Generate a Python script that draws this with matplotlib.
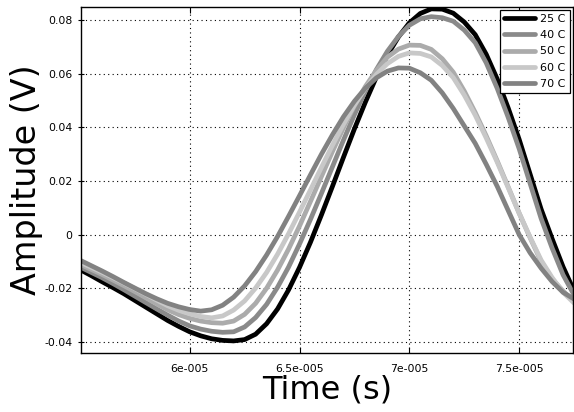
import matplotlib
matplotlib.use('Agg')
import matplotlib.pyplot as plt
from matplotlib.ticker import FuncFormatter, MultipleLocator

# time axis (s), read every 0.05e-5
time = [5.50e-5, 5.55e-5, 5.60e-5, 5.65e-5, 5.70e-5, 5.75e-5, 5.80e-5, 5.85e-5,
        5.90e-5, 5.95e-5, 6.00e-5, 6.05e-5, 6.10e-5, 6.15e-5, 6.20e-5, 6.25e-5,
        6.30e-5, 6.35e-5, 6.40e-5, 6.45e-5, 6.50e-5, 6.55e-5, 6.60e-5, 6.65e-5,
        6.70e-5, 6.75e-5, 6.80e-5, 6.85e-5, 6.90e-5, 6.95e-5, 7.00e-5, 7.05e-5,
        7.10e-5, 7.15e-5, 7.20e-5, 7.25e-5, 7.30e-5, 7.35e-5, 7.40e-5, 7.45e-5,
        7.50e-5, 7.55e-5, 7.60e-5, 7.65e-5, 7.70e-5, 7.75e-5]

# amplitudes (V)
amp_25 = [-0.0130, -0.0152, -0.0175, -0.0197, -0.0220, -0.0245, -0.0270, -0.0295,
          -0.0320, -0.0342, -0.0362, -0.0377, -0.0388, -0.0394, -0.0396, -0.0391,
          -0.0371, -0.0332, -0.0277, -0.0206, -0.0122, -0.0028, 0.0074, 0.0180,
          0.0288, 0.0394, 0.0494, 0.0587, 0.0668, 0.0736, 0.0789, 0.0824,
          0.0841, 0.0840, 0.0825, 0.0792, 0.0745, 0.0672, 0.0580, 0.0472,
          0.0355, 0.0225, 0.0095, -0.0015, -0.0120, -0.0210]
amp_40 = [-0.0120, -0.0140, -0.0160, -0.0182, -0.0205, -0.0229, -0.0253, -0.0277,
          -0.0300, -0.0322, -0.0340, -0.0352, -0.0360, -0.0364, -0.0362, -0.0344,
          -0.0309, -0.0260, -0.0196, -0.0121, -0.0035, 0.0057, 0.0154, 0.0253,
          0.0352, 0.0447, 0.0535, 0.0615, 0.0683, 0.0738, 0.0780, 0.0804,
          0.0812, 0.0808, 0.0795, 0.0762, 0.0715, 0.0640, 0.0545, 0.0437,
          0.0320, 0.0190, 0.0060, -0.0050, -0.0150, -0.0225]
amp_50 = [-0.0110, -0.0129, -0.0148, -0.0169, -0.0190, -0.0212, -0.0235, -0.0258,
          -0.0280, -0.0298, -0.0312, -0.0322, -0.0328, -0.0330, -0.0322, -0.0297,
          -0.0256, -0.0200, -0.0132, -0.0054, 0.0032, 0.0124, 0.0217, 0.0310,
          0.0398, 0.0480, 0.0552, 0.0612, 0.0661, 0.0691, 0.0706, 0.0705,
          0.0690, 0.0655, 0.0605, 0.0535, 0.0455, 0.0368, 0.0275, 0.0178,
          0.0080, -0.0012, -0.0100, -0.0165, -0.0210, -0.0250]
amp_60 = [-0.0103, -0.0121, -0.0140, -0.0160, -0.0180, -0.0201, -0.0222, -0.0244,
          -0.0265, -0.0282, -0.0295, -0.0305, -0.0310, -0.0303, -0.0281, -0.0247,
          -0.0199, -0.0141, -0.0073, 0.0003, 0.0084, 0.0167, 0.0251, 0.0333,
          0.0411, 0.0483, 0.0545, 0.0597, 0.0637, 0.0664, 0.0677, 0.0675,
          0.0662, 0.0630, 0.0585, 0.0520, 0.0445, 0.0360, 0.0270, 0.0175,
          0.0080, -0.0010, -0.0095, -0.0160, -0.0215, -0.0255]
amp_70 = [-0.0095, -0.0115, -0.0135, -0.0156, -0.0178, -0.0199, -0.0220, -0.0239,
          -0.0256, -0.0269, -0.0279, -0.0285, -0.0280, -0.0263, -0.0233, -0.0191,
          -0.0138, -0.0076, -0.0007, 0.0068, 0.0145, 0.0223, 0.0300, 0.0372,
          0.0439, 0.0497, 0.0546, 0.0584, 0.0609, 0.0621, 0.0620, 0.0603,
          0.0575, 0.0528, 0.0470, 0.0405, 0.0340, 0.0262, 0.0180, 0.0090,
          0.0000, -0.0068, -0.0125, -0.0175, -0.0215, -0.0240]

labels = ['25 C', '40 C', '50 C', '60 C', '70 C']
colors = ['#000000', '#8a8a8a', '#ababab', '#c8c8c8', '#828282']
series = [amp_25, amp_40, amp_50, amp_60, amp_70]


def sci_fmt(v, pos):
    if v == 0:
        return '0'
    m, e = ('%e' % v).split('e')
    m = ('%f' % float(m)).rstrip('0').rstrip('.')
    return '%se-%03d' % (m, abs(int(e)))


fig = plt.figure(figsize=(5.74, 4.12), dpi=100)
ax = fig.add_axes([0.1411, 0.1432, 0.8571, 0.8398])

for y, c, lab in zip(series, colors, labels):
    ax.plot(time, y, color=c, lw=3.4, label=lab, solid_capstyle='round',
            solid_joinstyle='round')

ax.set_xlim(5.505e-5, 7.745e-5)
ax.set_ylim(-0.0441, 0.0848)
ax.xaxis.set_major_locator(MultipleLocator(0.5e-5))
ax.yaxis.set_major_locator(MultipleLocator(0.02))
ax.xaxis.set_major_formatter(FuncFormatter(sci_fmt))
ax.yaxis.set_major_formatter(FuncFormatter(lambda v, p: '0' if abs(v) < 1e-12 else '%g' % v))
ax.grid(True, color='black', linestyle=(0, (1, 3)), linewidth=0.8)
ax.tick_params(axis='x', direction='in', top=True, length=4, labelsize=7.8, pad=8)
ax.tick_params(axis='y', direction='inout', length=4, labelsize=7.8, pad=4)
for s in ax.spines.values():
    s.set_linewidth(1.0)

ax.set_xlabel('Time (s)', fontsize=23, labelpad=0)
ax.set_ylabel('Amplitude (V)', fontsize=24, labelpad=1)

leg = ax.legend(loc='upper right', fontsize=8, fancybox=False, framealpha=1,
                edgecolor='black', handlelength=2.8, handletextpad=0.5,
                borderpad=0.35, labelspacing=0.55, borderaxespad=0.3)
leg.get_frame().set_linewidth(0.9)

fig.savefig('out.png', dpi=100)
